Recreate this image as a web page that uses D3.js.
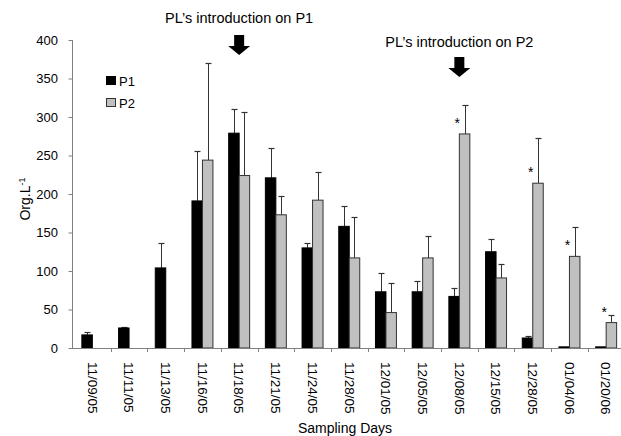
<!DOCTYPE html>
<html>
<head>
<meta charset="utf-8">
<script src="https://cdn.jsdelivr.net/npm/d3@7"></script>
<style>
  html, body { margin: 0; padding: 0; background: #fff; }
  svg { display: block; font-family: "Liberation Sans", Arial, sans-serif; }
</style>
</head>
<body>
<svg id="chart" width="621" height="436"></svg>
<script>
const categories = ["11/09/05","11/11/05","11/13/05","11/16/05","11/18/05","11/21/05","11/24/05","11/28/05","12/01/05","12/05/05","12/08/05","12/15/05","12/28/05","01/04/06","01/20/06"];
const seriesNames = ["P1", "P2"];
const p1Values = [17, 26, 104, 191, 279, 221, 130, 158, 73, 73, 67, 125, 13, 1.5, 1.5];
const p1Errors = [4, 1, 32, 65, 31, 39, 7, 26, 24, 14, 11, 16, 2, 0, 0];
const p2Values = [0, 0, 0, 244, 224, 173, 192, 117, 46, 117, 278, 91, 214, 119, 33];
const p2Errors = [0, 0, 0, 126, 83, 24, 37, 53, 38, 29, 38, 18, 59, 38, 10];
const significantP2 = ["12/08/05", "12/28/05", "01/04/06", "01/20/06"];
const yTicks = [0, 50, 100, 150, 200, 250, 300, 350, 400];
const introductions = [
  {cat: "11/18/05", label: "PL\u2019s introduction on P1"},
  {cat: "12/08/05", label: "PL\u2019s introduction on P2"}
];

const svg = d3.select("#chart");
const x0 = 74, x1 = 624.5, yBottom = 348, yTop = 40;

const x = d3.scaleBand().domain(categories).range([x0, x1]).paddingInner(0).paddingOuter(0);
const xs = d3.scaleBand().domain(seriesNames).range([0, x.bandwidth()]).paddingInner(0).paddingOuter(0.75);
const y = d3.scaleLinear().domain([0, 400]).range([yBottom, yTop]);

const rows = categories.map((c, i) => ({
  cat: c,
  vals: [
    {s: "P1", v: p1Values[i], e: p1Errors[i]},
    {s: "P2", v: p2Values[i], e: p2Errors[i]}
  ]
}));

const fills = {P1: "#000000", P2: "#c0c0c0"};
const strokes = {P1: "#000000", P2: "#333333"};

// error bars (drawn behind bars)
const eg = svg.append("g");
rows.forEach(r => {
  r.vals.forEach(d => {
    if (d.e <= 0 || d.v <= 0) return;
    const cx = Math.round(x(r.cat) + xs(d.s) + xs.bandwidth() / 2) + 0.5;
    const yt = Math.round(y(d.v + d.e)) + 0.5;
    eg.append("line").attr("x1", cx).attr("x2", cx).attr("y1", y(d.v)).attr("y2", yt)
      .attr("stroke", "#333").attr("stroke-width", 1);
    eg.append("line").attr("x1", cx - 3).attr("x2", cx + 3).attr("y1", yt).attr("y2", yt)
      .attr("stroke", "#333").attr("stroke-width", 1.2);
  });
});

// bars
const bg = svg.append("g");
rows.forEach(r => {
  r.vals.forEach(d => {
    if (d.v <= 0) return;
    bg.append("rect")
      .attr("x", x(r.cat) + xs(d.s))
      .attr("y", y(d.v))
      .attr("width", xs.bandwidth())
      .attr("height", yBottom - y(d.v))
      .attr("fill", fills[d.s])
      .attr("stroke", strokes[d.s])
      .attr("stroke-width", 1);
  });
});

// significance stars
svg.append("g").selectAll("text").data(significantP2).join("text")
  .attr("x", c => x(c) + xs("P2") - 2)
  .attr("y", c => y(p2Values[categories.indexOf(c)]) - 6)
  .attr("text-anchor", "middle")
  .attr("font-size", 14)
  .attr("fill", "#000")
  .text("*");

// y axis
const yAxis = svg.append("g").attr("transform", "translate(72,0)")
  .call(d3.axisLeft(y).tickValues(yTicks).tickSize(4).tickPadding(10).tickSizeOuter(0));
yAxis.select(".domain").attr("stroke", "#808080").attr("d", `M0.5,${yTop}V${yBottom}`);
yAxis.selectAll(".tick line").attr("stroke", "#808080").attr("transform", "translate(0.5,0)");
yAxis.selectAll(".tick text").attr("font-size", 13).attr("font-family", "Liberation Sans, Arial, sans-serif").attr("fill", "#000");

// x axis
const xAxis = svg.append("g").attr("transform", `translate(0,${yBottom})`)
  .call(d3.axisBottom(x).tickSize(0).tickPadding(0).tickSizeOuter(0));
xAxis.select(".domain").attr("stroke", "#808080").attr("d", `M72,0.5H621`);
xAxis.selectAll(".tick text")
  .attr("transform", "rotate(90)")
  .attr("x", 14).attr("y", 0).attr("dy", "0.35em")
  .attr("text-anchor", "start")
  .attr("font-size", 13.5)
  .attr("font-family", "Liberation Sans, Arial, sans-serif")
  .attr("fill", "#000");
// boundary ticks
svg.append("g").selectAll("line").data(categories.slice(1)).join("line")
  .attr("x1", c => Math.round(x(c)) + 0.5).attr("x2", c => Math.round(x(c)) + 0.5)
  .attr("y1", yBottom).attr("y2", yBottom + 4)
  .attr("stroke", "#808080");

// axis titles
svg.append("text")
  .attr("x", 345).attr("y", 433)
  .attr("text-anchor", "middle").attr("font-size", 14)
  .text("Sampling Days");

const yl = svg.append("text")
  .attr("transform", "translate(30,199) rotate(-90)")
  .attr("text-anchor", "middle").attr("font-size", 14);
yl.append("tspan").text("Org.L");
yl.append("tspan").attr("font-size", 9).attr("dy", "-0.55em").text("-1");

// legend
const lg = svg.append("g");
seriesNames.forEach((s, i) => {
  lg.append("rect").attr("x", 106.5).attr("y", 76.5 + i * 22).attr("width", 9).attr("height", 8)
    .attr("fill", fills[s]).attr("stroke", strokes[s]);
  lg.append("text").attr("x", 119).attr("y", 85.5 + i * 22).attr("font-size", 13).text(s);
});

// introduction annotations
const textPos = [{ty: 23, top: 35}, {ty: 47, top: 57}];
introductions.forEach((d, i) => {
  const cx = x(d.cat) + x.bandwidth() / 2;
  const p = textPos[i];
  svg.append("text").attr("x", cx).attr("y", p.ty).attr("text-anchor", "middle")
    .attr("font-size", 14.5).text(d.label);
  const t = p.top;
  const path = d3.path();
  path.moveTo(cx - 5, t);
  path.lineTo(cx + 5, t);
  path.lineTo(cx + 5, t + 11);
  path.lineTo(cx + 11, t + 11);
  path.lineTo(cx, t + 20);
  path.lineTo(cx - 11, t + 11);
  path.lineTo(cx - 5, t + 11);
  path.closePath();
  svg.append("path").attr("d", path.toString()).attr("fill", "#000");
});
</script>
</body>
</html>
